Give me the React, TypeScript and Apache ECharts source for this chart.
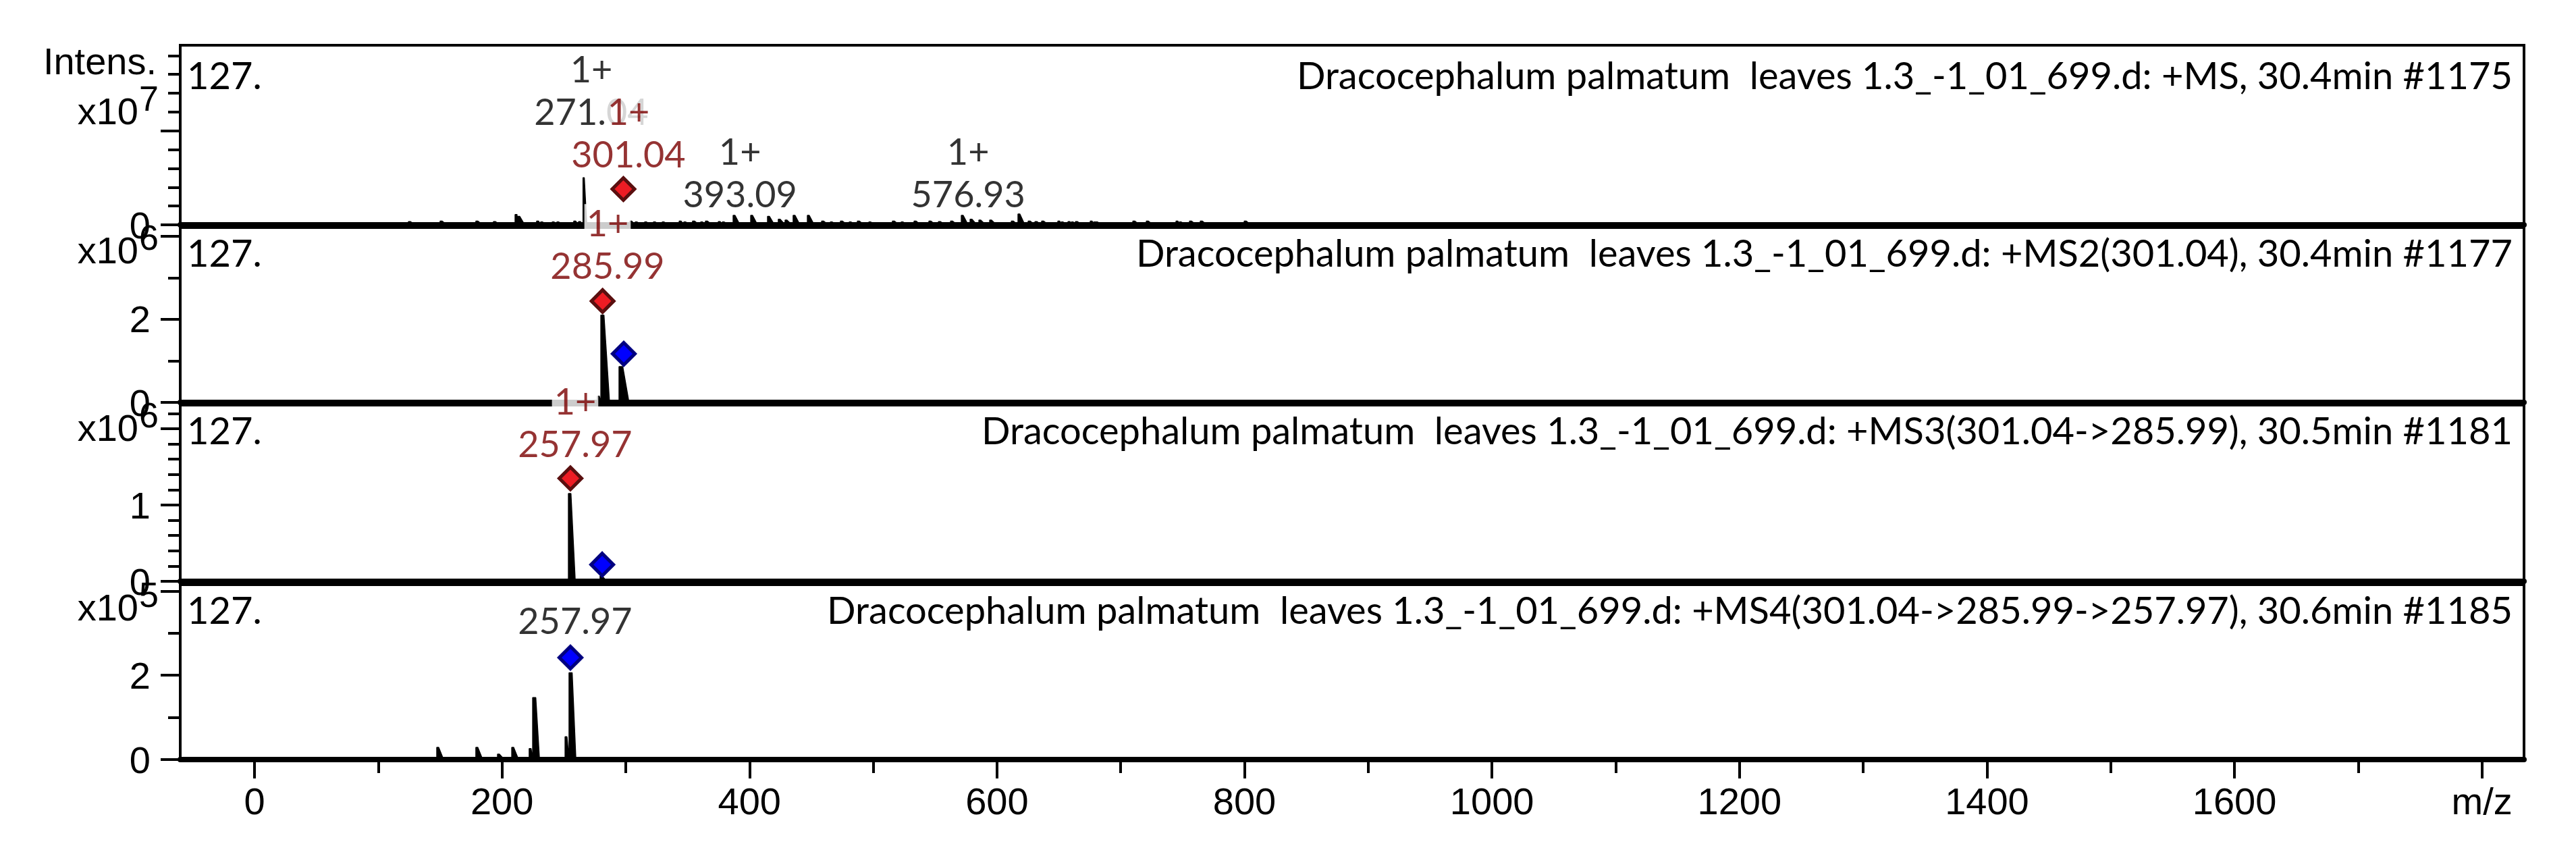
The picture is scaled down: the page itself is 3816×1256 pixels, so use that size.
import { useEffect, useRef } from 'react'
import * as echarts from 'echarts'

// ---- data ----

const TITLES = [
  'Dracocephalum palmatum  leaves 1.3_-1_01_699.d: +MS, 30.4min #1175',
  'Dracocephalum palmatum  leaves 1.3_-1_01_699.d: +MS2(301.04), 30.4min #1177',
  'Dracocephalum palmatum  leaves 1.3_-1_01_699.d: +MS3(301.04->285.99), 30.5min #1181',
  'Dracocephalum palmatum  leaves 1.3_-1_01_699.d: +MS4(301.04->285.99->257.97), 30.6min #1185',
]
const CORNER_TEXT = '127.'

// x axis (m/z)
const X_MIN = -60
const X_MAX = 1834
const X_MAJOR_TICKS = [0, 200, 400, 600, 800, 1000, 1200, 1400, 1600, 1800]
const X_MINOR_TICKS = [100, 300, 500, 700, 900, 1100, 1300, 1500, 1700]
const X_UNIT_AT = 1800
const SCAN_START = 100

// y axes, one per panel
const Y_MAX = [1.91e7, 4.21e6, 2.31e6, 4.15e5]
const Y_EXPONENT = [7, 6, 6, 5]
const Y_MAJOR_TICKS = [[0, 1e7], [0, 2e6, 4e6], [0, 1e6, 2e6], [0, 2e5, 4e5]]
const Y_MINOR_TICKS = [
  [2e6, 4e6, 6e6, 8e6, 1.2e7, 1.4e7, 1.6e7, 1.8e7],
  [1e6, 3e6],
  [2e5, 4e5, 6e5, 8e5, 1.2e6, 1.4e6, 1.6e6, 1.8e6, 2.2e6],
  [1e5, 3e5],
]
const Y_LABEL_TICKS = [[0], [0, 2e6], [0, 1e6], [0, 2e5]]

// peaks: [left edge m/z, height, top width?, base width?]
const MS1_PEAKS = [
  [124.4, 0.35e6], [150, 0.4e6], [178.9, 0.4e6], [193.1, 0.35e6], [210.6, 1.1e6],
  [212.8, 0.9e6], [228, 0.4e6], [231.3, 0.3e6], [240.6, 0.3e6], [244.4, 0.3e6],
  [258, 0.4e6], [261.9, 0.35e6], [265.5, 5.0e6, 1, 3], [303.3, 0.4e6], [307.7, 0.3e6],
  [315.3, 0.3e6], [322.4, 0.3e6], [329.5, 0.3e6], [343.2, 0.4e6], [347, 0.3e6],
  [354, 0.4e6], [360.6, 0.3e6], [364.4, 0.4e6], [374.8, 0.35e6], [378.1, 0.3e6],
  [386.8, 1.0e6], [401, 1.0e6], [414.6, 0.9e6], [423.3, 0.6e6], [428.8, 0.5e6],
  [435.3, 1.0e6], [446.8, 1.0e6], [458.3, 0.4e6], [465.4, 0.3e6], [473.5, 0.4e6],
  [480.6, 0.3e6], [487.2, 0.4e6], [496.5, 0.3e6], [515.5, 0.4e6], [522.6, 0.3e6],
  [533, 0.4e6], [545, 0.4e6], [552.7, 0.35e6], [562.5, 0.4e6], [571.2, 1.0e6],
  [578.3, 0.6e6], [585.4, 0.5e6], [594.1, 0.5e6], [611.6, 0.4e6], [617, 1.15e6],
  [625.2, 0.4e6], [630.7, 0.35e6], [636.1, 0.4e6], [649.2, 0.4e6], [651.9, 0.3e6],
  [657.4, 0.35e6], [660.1, 0.3e6], [663.4, 0.35e6], [675.4, 0.4e6], [678.1, 0.3e6],
  [679.8, 0.3e6], [709.8, 0.4e6], [720.7, 0.4e6], [744.7, 0.4e6], [747.4, 0.3e6],
  [755.6, 0.4e6], [764.3, 0.4e6], [799.8, 0.4e6],
]
const MS2_PEAKS = [[277.1, 0.15e6], [279.9, 2.1e6, 2.5, 7], [294.6, 0.86e6, 3, 8]]
const MS3_PEAKS = [[253.7, 1.15e6, 2, 5.5], [279.3, 0.07e6]]
const MS4_PEAKS = [
  [147.3, 0.29e5], [178.9, 0.29e5], [196.4, 0.13e5], [207.9, 0.29e5], [222, 0.26e5],
  [224.8, 1.47e5, 2.5, 5.5], [251, 0.54e5], [254.2, 2.06e5, 2.5, 5.5],
]

// diamonds: [m/z, intensity]
const MS1_PRECURSOR = [[298.1, 3.8e6]]
const MS2_PRECURSOR = [[281.3, 2.44e6]]
const MS2_FRAGMENT = [[298.4, 1.17e6]]
const MS3_PRECURSOR = [[255.3, 1.35e6]]
const MS3_FRAGMENT = [[281.0, 0.22e6]]
const MS4_FRAGMENT = [[255.3, 2.42e5]]

// peak labels: m/z of label centre, intensity of label bottom
const MS1_LABELS = [
  { mz: 272.2, value: 9.82e6, charge: '1+', text: '271.04' },
  { mz: 392.3, value: 1.04e6, charge: '1+', text: '393.09' },
  { mz: 576.7, value: 1.04e6, charge: '1+', text: '576.93' },
]
const MS1_PRECURSOR_LABELS = [{ mz: 302.2, value: 5.29e6, charge: '1+', text: '301.04' }]
const MS2_PRECURSOR_LABELS = [{ mz: 285.3, value: 2.79e6, charge: '1+', text: '285.99' }]
const MS3_PRECURSOR_LABELS = [{ mz: 259.1, value: 1.53e6, charge: '1+', text: '257.97' }]
const MS4_LABELS = [{ mz: 259.1, value: 2.79e5, charge: '', text: '257.97' }]

const PANELS = [
  { peaks: MS1_PEAKS, precursor: MS1_PRECURSOR, fragment: [], labels: MS1_LABELS, precursorLabels: MS1_PRECURSOR_LABELS },
  { peaks: MS2_PEAKS, precursor: MS2_PRECURSOR, fragment: MS2_FRAGMENT, labels: [], precursorLabels: MS2_PRECURSOR_LABELS },
  { peaks: MS3_PEAKS, precursor: MS3_PRECURSOR, fragment: MS3_FRAGMENT, labels: [], precursorLabels: MS3_PRECURSOR_LABELS },
  { peaks: MS4_PEAKS, precursor: [], fragment: MS4_FRAGMENT, labels: MS4_LABELS, precursorLabels: [] },
]

// ---- layout ----
const W = 3816
const H = 1256
const GRID_LEFT = 267
const GRID_RIGHT = 77
const PANEL_TOP = [67, 337, 600, 866]
const PANEL_BOTTOM = [333, 596, 861, 1125]
const TITLE_Y = [110, 373, 636, 902]
const EXP_Y = [164, 370, 633, 899]

const AXIS_FONT = '"Liberation Sans", Arial, sans-serif'
const TEXT_FONT = 'Lato, "Noto Sans", sans-serif'
const DARK_RED = '#7A0000'

function profile(peaks: number[][]) {
  const sorted = [...peaks].sort((a, b) => a[0] - b[0])
  const pts: number[][] = [[SCAN_START, 0]]
  sorted.forEach(([mz, h, top = 1.5, base = 5.5], i) => {
    const next = sorted[i + 1]
    const end = next ? Math.min(mz + base, next[0]) : mz + base
    pts.push([mz, 0], [mz, h], [Math.min(mz + top, end), h], [end, 0])
  })
  pts.push([sorted[sorted.length - 1][0] + 20, 0])
  return pts
}

function labelRich(color: string) {
  return {
    t: {
      color,
      fontFamily: TEXT_FONT,
      fontSize: 54,
      lineHeight: 63,
      backgroundColor: '#fff',
      padding: [0, 3],
    },
  }
}

function labelSeries(i: number, data: any[], color: string, z: number) {
  return {
    type: 'scatter',
    xAxisIndex: i,
    yAxisIndex: i,
    symbol: 'rect',
    symbolSize: 1,
    itemStyle: { color: 'rgba(0,0,0,0)' },
    clip: false,
    silent: true,
    z,
    data: data.map((d) => ({ value: [d.mz, d.value], charge: d.charge, text: d.text })),
    label: {
      show: true,
      position: 'top',
      distance: 0,
      formatter: (p: any) =>
        p.data.charge ? `{t|${p.data.charge}}\n{t|${p.data.text}}` : `{t|${p.data.text}}`,
      rich: labelRich(color),
    },
  }
}

function diamondSeries(i: number, data: number[][], fill: string, stroke: string) {
  return {
    type: 'scatter',
    xAxisIndex: i,
    yAxisIndex: i,
    symbol: 'diamond',
    symbolSize: 33,
    clip: false,
    silent: true,
    z: 3,
    itemStyle: { color: fill, borderColor: stroke, borderWidth: 5, opacity: 1 },
    data,
  }
}

function buildOption() {
  const grid = PANELS.map((_, i) => ({
    left: GRID_LEFT,
    right: GRID_RIGHT,
    top: PANEL_TOP[i],
    height: PANEL_BOTTOM[i] - PANEL_TOP[i],
    show: true,
    borderColor: '#000',
    borderWidth: 4,
    backgroundColor: 'transparent',
  }))

  const xAxis: any[] = PANELS.map((_, i) => ({
    type: 'value',
    gridIndex: i,
    min: X_MIN,
    max: X_MAX,
    position: 'bottom',
    axisLine: { show: true, onZero: false, lineStyle: { color: '#000', width: 8 } },
    axisTick: {
      show: i === 3,
      customValues: X_MAJOR_TICKS,
      length: 28,
      lineStyle: { color: '#000', width: 4 },
    },
    axisLabel: {
      show: i === 3,
      customValues: X_MAJOR_TICKS,
      formatter: (v: number) => (v === X_UNIT_AT ? 'm/z' : String(v)),
      color: '#000',
      fontFamily: AXIS_FONT,
      fontSize: 56,
      margin: 33,
    },
    splitLine: { show: false },
  }))
  xAxis.push({
    type: 'value',
    gridIndex: 3,
    min: X_MIN,
    max: X_MAX,
    position: 'bottom',
    axisLine: { show: false, onZero: false },
    axisTick: { show: true, customValues: X_MINOR_TICKS, length: 20, lineStyle: { color: '#000', width: 4 } },
    axisLabel: { show: false },
    splitLine: { show: false },
  })

  const yAxis: any[] = PANELS.map((_, i) => ({
    type: 'value',
    gridIndex: i,
    min: 0,
    max: Y_MAX[i],
    position: 'left',
    axisLine: { show: true, onZero: false, lineStyle: { color: '#000', width: 4 } },
    axisTick: { show: true, customValues: Y_MAJOR_TICKS[i], length: 29, lineStyle: { color: '#000', width: 4 } },
    axisLabel: {
      show: true,
      customValues: Y_LABEL_TICKS[i],
      formatter: (v: number) => String(Math.round(v / 10 ** Y_EXPONENT[i])),
      color: '#000',
      fontFamily: AXIS_FONT,
      fontSize: 56,
      margin: 44,
    },
    splitLine: { show: false },
  }))
  PANELS.forEach((_, i) =>
    yAxis.push({
      type: 'value',
      gridIndex: i,
      min: 0,
      max: Y_MAX[i],
      position: 'left',
      axisLine: { show: false, onZero: false },
      axisTick: { show: true, customValues: Y_MINOR_TICKS[i], length: 18, lineStyle: { color: '#000', width: 4 } },
      axisLabel: { show: false },
      splitLine: { show: false },
    }),
  )

  const series: any[] = []
  PANELS.forEach((p, i) => {
    series.push({
      type: 'line',
      xAxisIndex: i,
      yAxisIndex: i,
      data: profile(p.peaks),
      symbol: 'none',
      silent: true,
      z: 2,
      lineStyle: { color: '#000', width: 1.5 },
      areaStyle: { color: '#000', opacity: 1 },
    })
    if (p.precursor.length) series.push(diamondSeries(i, p.precursor, '#ED1C24', '#5A0F0F'))
    if (p.fragment.length) series.push(diamondSeries(i, p.fragment, '#0000FF', '#000080'))
    if (p.labels.length) series.push(labelSeries(i, p.labels, '#000', 4))
    if (p.precursorLabels.length) series.push(labelSeries(i, p.precursorLabels, DARK_RED, 5))
  })

  const graphic: any[] = [
    {
      type: 'text',
      style: { text: 'Intens.', x: 232, y: 90, align: 'right', verticalAlign: 'middle', fill: '#000', fontFamily: AXIS_FONT, fontSize: 56 },
    },
  ]
  PANELS.forEach((_, i) => {
    graphic.push(
      {
        type: 'text',
        style: { text: 'x10', x: 205, y: EXP_Y[i], align: 'right', verticalAlign: 'middle', fill: '#000', fontFamily: AXIS_FONT, fontSize: 56 },
      },
      {
        type: 'text',
        style: { text: String(Y_EXPONENT[i]), x: 206, y: EXP_Y[i] - 18, align: 'left', verticalAlign: 'middle', fill: '#000', fontFamily: AXIS_FONT, fontSize: 52 },
      },
      {
        type: 'text',
        style: { text: CORNER_TEXT, x: 277, y: TITLE_Y[i], align: 'left', verticalAlign: 'middle', fill: '#000', fontFamily: TEXT_FONT, fontSize: 56 },
      },
      {
        type: 'text',
        style: { text: TITLES[i], x: W - 94, y: TITLE_Y[i], align: 'right', verticalAlign: 'middle', fill: '#000', fontFamily: TEXT_FONT, fontSize: 56 },
      },
    )
  })

  return {
    animation: false,
    backgroundColor: '#fff',
    grid,
    xAxis,
    yAxis,
    series,
    graphic,
  }
}

export default function App() {
  const ref = useRef<HTMLDivElement>(null)

  useEffect(() => {
    if (!ref.current) return
    const chart = echarts.init(ref.current, undefined, { renderer: 'svg' })
    chart.setOption(buildOption())
    return () => chart.dispose()
  }, [])

  return <div ref={ref} style={{ position: 'fixed', left: 0, top: 0, width: W, height: H }} />
}
